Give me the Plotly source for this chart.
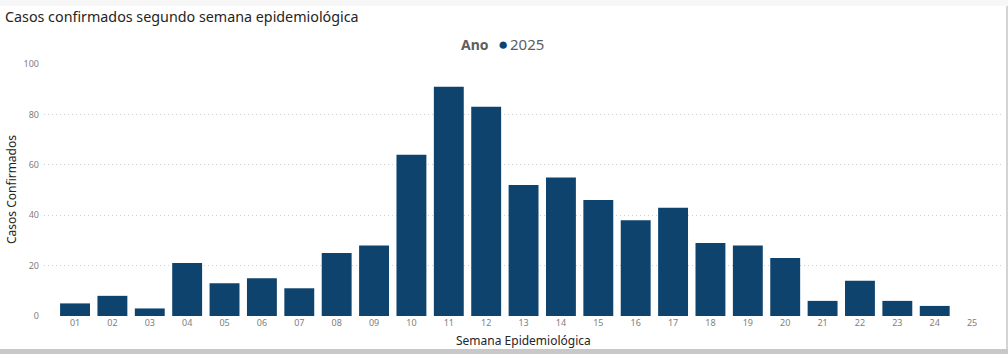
import plotly.graph_objects as go

semanas = ["01","02","03","04","05","06","07","08","09","10","11","12","13",
           "14","15","16","17","18","19","20","21","22","23","24","25"]
casos = [5, 8, 3, 21, 13, 15, 11, 25, 28, 64, 91, 83, 52, 55, 46, 38, 43, 29, 28, 23, 6, 14, 6, 4, 0]
y_ticks = [0, 20, 40, 60, 80, 100]
ano = "2025"

W, H = 1008, 354
L, R, T, B = 44, 6, 64, 38
pw, ph = W - L - R, H - T - B

def px(x):
    return (x - L) / pw

def py(y):
    return (H - B - y) / ph

BAR = "#0E436E"
FONT = "Noto Sans, Open Sans, sans-serif"

fig = go.Figure()
fig.add_trace(go.Bar(
    x=semanas, y=casos, marker=dict(color=BAR, line=dict(width=0)),
    showlegend=False, hoverinfo="x+y"
))

fig.update_layout(
    width=W, height=H,
    margin=dict(l=L, r=R, t=T, b=B),
    paper_bgcolor="white", plot_bgcolor="white",
    font=dict(family=FONT),
    bargap=0.2,
    title=dict(text="Casos confirmados segundo semana epidemiológica",
               x=5 / W, y=1 - 17 / H, xref="container", yref="container",
               xanchor="left", yanchor="middle",
               font=dict(size=14.3, color="#252423", family=FONT)),
    xaxis=dict(type="category", range=[-0.83, 24.8], showgrid=False, zeroline=False,
               showline=False, ticks="", tickfont=dict(size=9, color="#808080")),
    yaxis=dict(range=[0, 100], tickvals=y_ticks, showgrid=True, gridcolor="#D0D0D0",
               griddash="1px,3px", gridwidth=1, zeroline=False, showline=False,
               tickfont=dict(size=9, color="#808080"), ticklabelstandoff=4),
    showlegend=False,
)

annotations = [
    dict(text="Semana Epidemiológica", x=px(523), y=py(340), xref="paper", yref="paper",
         showarrow=False, xanchor="center", yanchor="middle",
         font=dict(size=12, color="#252423")),
    dict(text="Casos Confirmados", x=px(11), y=py(190), xref="paper", yref="paper",
         showarrow=False, xanchor="center", yanchor="middle", textangle=-90,
         font=dict(size=12, color="#252423")),
    dict(text="<b>Ano</b>", x=px(491), y=py(44), xref="paper", yref="paper",
         showarrow=False, xanchor="right", yanchor="middle",
         font=dict(size=14, color="#605E5C")),
    dict(text=f"<span style='color:{BAR};font-size:17px'>●</span>", x=px(496), y=py(43), xref="paper", yref="paper",
         showarrow=False, xanchor="left", yanchor="middle",
         font=dict(size=14, color="#605E5C")),
    dict(text=ano, x=px(508), y=py(44), xref="paper", yref="paper",
         showarrow=False, xanchor="left", yanchor="middle",
         font=dict(size=15, color="#605E5C")),
]
fig.update_layout(annotations=annotations)

shapes = [
    dict(type="rect", xref="paper", yref="paper", x0=px(0), x1=px(W), y0=py(0), y1=py(6),
         fillcolor="#F7F7F7", line=dict(width=0), layer="below"),
    dict(type="rect", xref="paper", yref="paper", x0=px(0), x1=px(W), y0=py(349), y1=py(H),
         fillcolor="#C8C8C8", line=dict(width=0), layer="below"),
    dict(type="rect", xref="paper", yref="paper", x0=px(1006), x1=px(W), y0=py(6), y1=py(349),
         fillcolor="#D4D4D4", line=dict(width=0), layer="below"),
]
fig.update_layout(shapes=shapes)

fig.write_html("out.html")
